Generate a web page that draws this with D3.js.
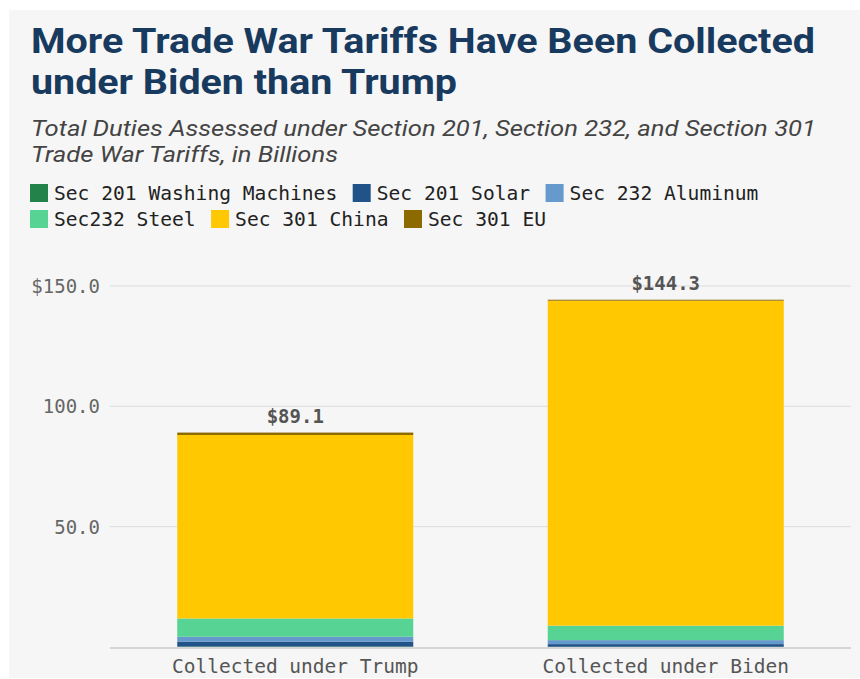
<!DOCTYPE html>
<html>
<head>
<meta charset="utf-8">
<script src="https://cdn.jsdelivr.net/npm/d3@7"></script>
<style>
  html, body { margin: 0; padding: 0; background: #ffffff; }
  svg { display: block; }
</style>
</head>
<body>
<svg id="chart" width="860" height="679"></svg>
<script>
// ---- Data ----
const categories = ["Collected under Trump", "Collected under Biden"];
const seriesNames = ["Sec 201 Washing Machines", "Sec 201 Solar", "Sec 232 Aluminum", "Sec232 Steel", "Sec 301 China", "Sec 301 EU"];
const seriesColors = ["#23824a", "#215388", "#6699cc", "#57d394", "#ffc800", "#8c6a00"];
const washingMachines = [0.2, 0.1];
const solar = [1.95, 1.1];
const aluminum = [2.1, 1.66];
const steel = [7.6, 6.0];
const china = [76.25, 135.04];
const eu = [1.0, 0.4];
const totalLabels = ["$89.1", "$144.3"];
const yTicks = [50, 100, 150];
const yTickLabels = ["50.0", "100.0", "$150.0"];

const seriesValues = [washingMachines, solar, aluminum, steel, china, eu];
const rows = categories.map((c, i) => {
  const r = { category: c };
  seriesNames.forEach((s, j) => r[s] = seriesValues[j][i]);
  return r;
});

const svg = d3.select("#chart");
const mono = "'DejaVu Sans Mono', 'Liberation Mono', monospace";

// panel background
svg.append("rect").attr("x", 9).attr("y", 10).attr("width", 851).attr("height", 668).attr("fill", "#f6f6f6");

// title
const title = svg.append("g").attr("font-family", "Roboto, 'Noto Sans', sans-serif").attr("font-weight", 700)
  .attr("fill", "#173a5e").attr("font-size", 34.5);
title.append("text").attr("x", 31).attr("y", 53).attr("textLength", 784).attr("lengthAdjust", "spacingAndGlyphs").text("More Trade War Tariffs Have Been Collected");
title.append("text").attr("x", 31).attr("y", 94).attr("textLength", 426).attr("lengthAdjust", "spacingAndGlyphs").text("under Biden than Trump");

const sub = svg.append("g").attr("font-family", "Roboto, 'Noto Sans', sans-serif").attr("font-style", "italic")
  .attr("fill", "#444").attr("font-size", 22);
sub.append("text").attr("x", 31).attr("y", 136).attr("textLength", 785).attr("lengthAdjust", "spacingAndGlyphs").text("Total Duties Assessed under Section 201, Section 232, and Section 301");
sub.append("text").attr("x", 31).attr("y", 162).attr("textLength", 307).attr("lengthAdjust", "spacingAndGlyphs").text("Trade War Tariffs, in Billions");

// legend
const legendRows = [[0, 1, 2], [3, 4, 5]];
const charW = 11.8;
legendRows.forEach((row, ri) => {
  let x = 30;
  const y = 184 + ri * 26;
  row.forEach(j => {
    const g = svg.append("g");
    g.append("rect").attr("x", x).attr("y", y).attr("width", 18).attr("height", 18).attr("fill", seriesColors[j]);
    const tw = seriesNames[j].length * charW;
    g.append("text").attr("x", x + 24).attr("y", y + 16).attr("font-family", mono).attr("font-size", 19.5)
      .attr("fill", "#222").attr("textLength", tw).attr("lengthAdjust", "spacingAndGlyphs").text(seriesNames[j]);
    x += 24 + tw + 15.5;
  });
});

// scales
const x = d3.scaleBand().domain(categories).range([110, 851]).paddingInner(0.363).paddingOuter(0.1815);
const y = d3.scaleLinear().domain([0, 150]).range([647, 286]);

// gridlines
svg.append("g").selectAll("line").data(yTicks).join("line")
  .attr("x1", 110).attr("x2", 851).attr("y1", d => y(d)).attr("y2", d => y(d))
  .attr("stroke", "#dcdcdc").attr("stroke-width", 1);

svg.append("g").selectAll("text").data(yTicks).join("text")
  .attr("x", 100).attr("y", d => y(d) + 7).attr("text-anchor", "end")
  .attr("font-family", mono).attr("font-size", 19).attr("fill", "#666")
  .text((d, i) => yTickLabels[i]);

// stacked bars
const stack = d3.stack().keys(seriesNames)(rows);
svg.append("g").selectAll("g").data(stack).join("g")
  .attr("fill", (d, i) => seriesColors[i])
  .selectAll("rect").data(d => d).join("rect")
  .attr("x", d => x(d.data.category))
  .attr("width", x.bandwidth())
  .attr("y", d => y(d[1]))
  .attr("height", d => y(d[0]) - y(d[1]));

// baseline
svg.append("line").attr("x1", 110).attr("x2", 851).attr("y1", y(0) + 1).attr("y2", y(0) + 1)
  .attr("stroke", "#d6d6d6").attr("stroke-width", 2);

// totals
const totals = rows.map(r => d3.sum(seriesNames, s => r[s]));
svg.append("g").selectAll("text").data(categories).join("text")
  .attr("x", d => x(d) + x.bandwidth() / 2)
  .attr("y", (d, i) => y(totals[i]) - 10)
  .attr("text-anchor", "middle").attr("font-family", mono).attr("font-weight", 700)
  .attr("font-size", 19).attr("fill", "#555")
  .text((d, i) => totalLabels[i]);

// category labels
svg.append("g").selectAll("text").data(categories).join("text")
  .attr("x", d => x(d) + x.bandwidth() / 2)
  .attr("y", 673).attr("text-anchor", "middle")
  .attr("font-family", mono).attr("font-size", 19.5).attr("fill", "#555")
  .text(d => d);
</script>
</body>
</html>
